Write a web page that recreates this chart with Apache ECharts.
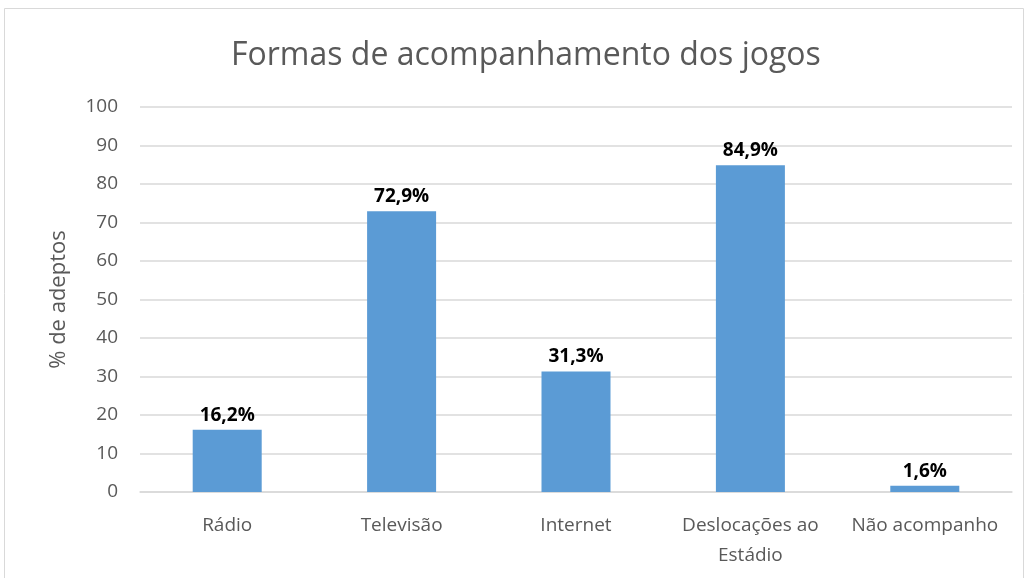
<!DOCTYPE html>
<html><head><meta charset="utf-8">
<script src="https://cdn.jsdelivr.net/npm/echarts@6/dist/echarts.min.js"></script>
<style>html,body{margin:0;padding:0;background:#fff}#c{width:1029px;height:578px}</style>
</head><body><div id="c"></div>
<script>
const categories = ['Rádio', 'Televisão', 'Internet', 'Deslocações ao\nEstádio', 'Não acompanho'];
const values = [16.2, 72.9, 31.3, 84.9, 1.6];
const yTicks = { min: 0, max: 100, interval: 10 };
const titleText = 'Formas de acompanhamento dos jogos';
const yName = '% de adeptos';

const chart = echarts.init(document.getElementById('c'));
const font = '"Open Sans", "Noto Sans", sans-serif';
chart.setOption({
  animation: false,
  graphic: [{ type: 'rect', shape: { x: 4.5, y: 8.5, width: 1019, height: 575 }, style: { fill: 'none', stroke: '#d9d9d9', lineWidth: 1 } }],
  title: { text: titleText, left: 226, top: 35, textStyle: { fontFamily: font, fontSize: 32, fontWeight: 'normal', color: '#595959' } },
  grid: { left: 140, right: 17, top: 107, bottom: 86, containLabel: false },
  xAxis: {
    type: 'category', data: categories,
    axisLine: { lineStyle: { color: '#d9d9d9', width: 1.5 } },
    axisTick: { show: false },
    axisLabel: { fontFamily: font, fontSize: 19, color: '#595959', margin: 19, lineHeight: 30, interval: 0 }
  },
  yAxis: {
    type: 'value', min: yTicks.min, max: yTicks.max, interval: yTicks.interval,
    name: yName, nameLocation: 'middle', nameGap: 70, nameRotate: 90,
    nameTextStyle: { fontFamily: font, fontSize: 22, color: '#595959' },
    axisLine: { show: false }, axisTick: { show: false },
    axisLabel: { fontFamily: font, fontSize: 19, color: '#595959', margin: 22 },
    splitLine: { lineStyle: { color: '#d9d9d9', width: 1.5 } }
  },
  series: [{
    type: 'bar', data: values, barWidth: 69,
    itemStyle: { color: '#5b9bd5' },
    label: { show: true, position: 'top', distance: 5, fontFamily: font, fontSize: 19, fontWeight: 'bold', color: '#000',
      formatter: p => p.value.toFixed(1).replace('.', ',') + '%' }
  }]
});
</script></body></html>
